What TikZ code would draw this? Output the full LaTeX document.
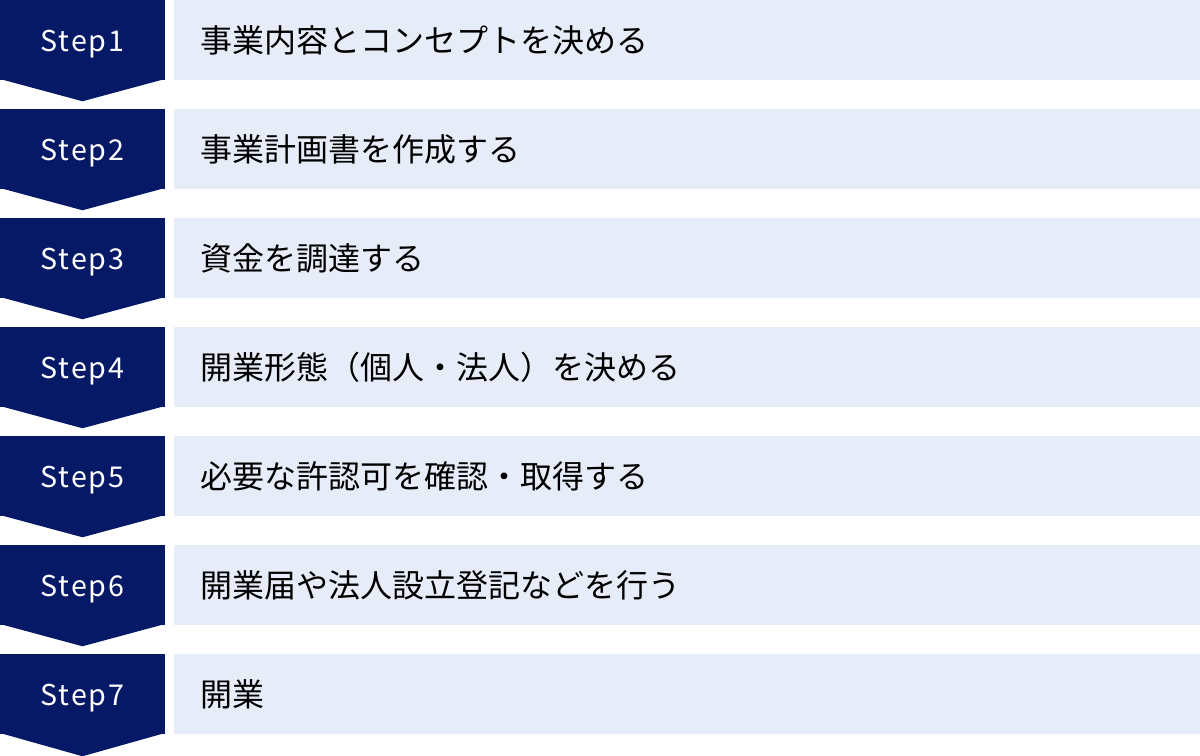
\documentclass[tikz,border=0pt]{standalone}
\usepackage{fontspec}
\setmainfont{Noto Sans}
\newfontfamily\jpfont{Noto Sans CJK JP}
\newfontfamily\stepfont[LetterSpace=6]{Noto Sans CJK JP}
\definecolor{stepnavy}{HTML}{061966}
\definecolor{boxblue}{HTML}{E6ECF8}
\tikzset{
  stepbox/.style={fill=stepnavy, text=white, minimum width=123.75pt, minimum height=60pt, inner sep=0pt, text height=17.5pt, text depth=0pt, font=\stepfont\fontsize{21.5}{22}\selectfont},
  textbox/.style={fill=boxblue, anchor=west, minimum height=60pt, text width=730.5pt, inner xsep=19.5pt, inner ysep=0pt, align=left, font=\jpfont\fontsize{24}{26}\selectfont},
  tip/.style={fill=stepnavy}
}

\begin{document}
\begin{tikzpicture}[x=0.75pt,y=-0.75pt]
            \useasboundingbox (0,0) rectangle (1200,756);
            \node[stepbox] (s1) at (82.5,40) {Step1};
            \node[stepbox] (s2) at (82.5,149) {Step2};
            \node[stepbox] (s3) at (82.5,258) {Step3};
            \node[stepbox] (s4) at (82.5,367) {Step4};
            \node[stepbox] (s5) at (82.5,476) {Step5};
            \node[stepbox] (s6) at (82.5,585) {Step6};
            \node[stepbox] (s7) at (82.5,694) {Step7};
            \fill[tip] ([yshift=1pt]s1.south west) -- ([yshift=1pt]s1.south east) -- ([yshift=-15.75pt]s1.south) -- cycle;
            \fill[tip] ([yshift=1pt]s2.south west) -- ([yshift=1pt]s2.south east) -- ([yshift=-15.75pt]s2.south) -- cycle;
            \fill[tip] ([yshift=1pt]s3.south west) -- ([yshift=1pt]s3.south east) -- ([yshift=-15.75pt]s3.south) -- cycle;
            \fill[tip] ([yshift=1pt]s4.south west) -- ([yshift=1pt]s4.south east) -- ([yshift=-15.75pt]s4.south) -- cycle;
            \fill[tip] ([yshift=1pt]s5.south west) -- ([yshift=1pt]s5.south east) -- ([yshift=-15.75pt]s5.south) -- cycle;
            \fill[tip] ([yshift=1pt]s6.south west) -- ([yshift=1pt]s6.south east) -- ([yshift=-15.75pt]s6.south) -- cycle;
            \fill[tip] ([yshift=1pt]s7.south west) -- ([yshift=1pt]s7.south east) -- ([yshift=-16.5pt]s7.south) -- cycle;
            \node[textbox] (t1) at (174,40) {事業内容とコンセプトを決める};
            \node[textbox] (t2) at (174,149) {事業計画書を作成する};
            \node[textbox] (t3) at (174,258) {資金を調達する};
            \node[textbox] (t4) at (174,367) {開業形態（個人・法人）を決める};
            \node[textbox] (t5) at (174,476) {必要な許認可を確認・取得する};
            \node[textbox] (t6) at (174,585) {開業届や法人設立登記などを行う};
            \node[textbox] (t7) at (174,694) {開業};
        \end{tikzpicture}
\end{document}
